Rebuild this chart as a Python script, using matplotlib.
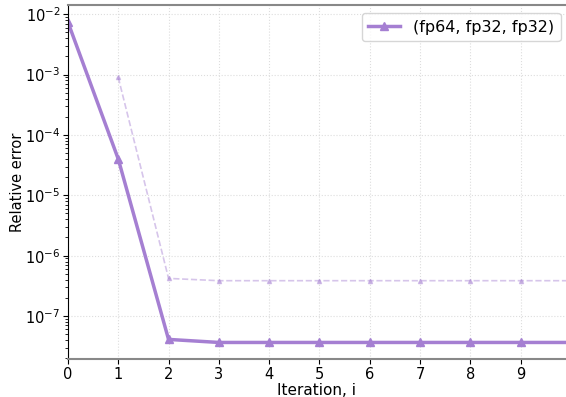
import matplotlib
matplotlib.use("Agg")
import matplotlib.pyplot as plt
import numpy as np

iterations = np.arange(0, 11)
err_main = [7.4e-3, 4.0e-5, 4.1e-8, 3.65e-8, 3.65e-8, 3.65e-8, 3.65e-8, 3.65e-8, 3.65e-8, 3.65e-8, 3.65e-8]
iter_aux = np.arange(1, 11)
err_aux = [9.0e-4, 4.2e-7, 3.85e-7, 3.85e-7, 3.85e-7, 3.85e-7, 3.85e-7, 3.85e-7, 3.85e-7, 3.85e-7]
label = "(fp64, fp32, fp32)"
color = "#a57fd2"

fig = plt.figure(figsize=(5.66, 3.97), dpi=100)
ax = fig.add_axes([0.120, 0.096, 0.88, 0.891])

ax.plot(iterations, err_main, color=color, lw=2.5, marker="^", ms=6, label=label)
ax.plot(iter_aux, err_aux, color=color, lw=1.2, ls="--", marker="^", ms=3, alpha=0.45)

ax.set_yscale("log")
ax.set_xlim(0, 9.9)
ax.set_ylim(10**-7.71, 10**-1.85)
ax.set_xticks(range(0, 10))
ax.grid(True, ls=":", color="#dddddd", lw=0.8)
ax.set_xlabel("Iteration, i", fontsize=11, labelpad=1)
ax.set_ylabel("Relative error", fontsize=10.5, labelpad=0)
ax.tick_params(labelsize=10.5, pad=2)
ax.spines["right"].set_visible(False)
for s in ["top", "bottom"]:
    ax.spines[s].set_color("#888888")
    ax.spines[s].set_linewidth(1.5)
ax.legend(loc="upper right", fontsize=11.5, bbox_to_anchor=(1.005, 1.0))

fig.savefig("out.png", dpi=100)
